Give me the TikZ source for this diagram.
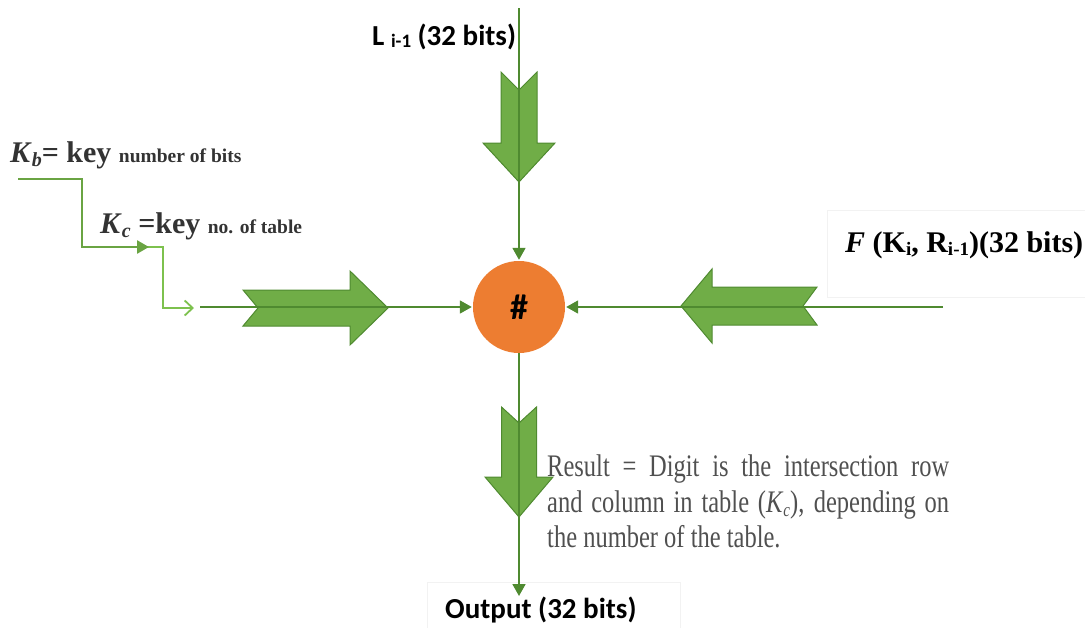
\documentclass[tikz,border=0pt]{standalone}
\usepackage{fontspec}
\setmainfont{Liberation Serif}
\newfontfamily\calib{Carlito}
\usetikzlibrary{arrows.meta}
\definecolor{gfill}{HTML}{70AD47}
\definecolor{gdark}{HTML}{4F8A30}
\definecolor{glight}{HTML}{7DC14E}
\definecolor{orng}{HTML}{ED7D31}
\definecolor{txtdark}{HTML}{333333}
\definecolor{txtgray}{HTML}{505050}
\newcommand\notcharrow[8]{%
  \path[bigarrow, shift={(#1,#2)}, rotate=#3] (0,0) -- (-#5,#6) -- (-#5,#7) -- (-#4,#7) -- (-#4+#8,0) -- (-#4,-#7) -- (-#5,-#7) -- (-#5,-#6) -- cycle;}
\begin{document}
\begin{tikzpicture}[x=1pt,y=-1pt,
  conn/.style={draw=gdark, line width=1.8pt, -{Triangle[length=12pt,width=13pt]}, shorten >=1pt},
  bigarrow/.style={fill=gfill, draw=gdark, line width=1pt, line join=miter},
  kbline/.style={draw=gfill!95!black, line width=2.6pt},
  kcline/.style={draw=glight, line width=1.8pt},
  faintbox/.style={draw=black!5, line width=0.6pt},
  sanslab/.style={font=\calib\bfseries\fontsize{29}{32}\selectfont, text=black, inner sep=0pt},
  serlab/.style={font=\bfseries\fontsize{30}{34}\selectfont, text=txtdark, inner sep=0pt},
]
\useasboundingbox (0,0) rectangle (1085,627);
% faint boxes
\path[faintbox] (827,210) rectangle (1090,297);
\path[faintbox] (427,582) rectangle (680,630);

% big notched arrows
\notcharrow{519}{182}{-90}{110}{39}{36}{18}{18}
\notcharrow{519}{517}{-90}{110}{40}{34}{17.5}{16}
\notcharrow{388}{308}{0}{145}{38}{37}{18}{15}
\notcharrow{681}{306}{180}{136}{31}{37}{19}{14}

% central node
\node[circle, fill=orng, minimum size=92pt, inner sep=0pt, font=\calib\bfseries\fontsize{36}{38}\selectfont] (c) at (519,307) {\#};

% connector ends
\coordinate (topS) at (519,8);
\coordinate (leftS) at (200,307);
\coordinate (rightS) at (943,307);
\coordinate (outT) at (519,597);
\draw[conn] (topS) -- (c.north);
\draw[conn] (leftS) -- (c.west);
\draw[conn] (rightS) -- (c.east);
\draw[conn] (c.south) -- (outT);

% key lines
\coordinate (kb0) at (18,179);
\coordinate (kb1) at (82,179);
\coordinate (kb2) at (82,247);
\coordinate (kbA) at (149,247);
\coordinate (kc0) at (144,247);
\coordinate (kc1) at (163,247);
\coordinate (kc2) at (163,308);
\coordinate (kc3) at (194,308);
\draw[kcline, -{Straight Barb[length=8pt,width=15pt]}] (kc0) -- (kc1) -- (kc2) -- (kc3);
\draw[kbline, line join=miter, -{Triangle[length=12pt,width=13pt]}] (kb0) -- (kb1) -- (kb2) -- (kbA);

% labels
\node[sanslab, anchor=base west] (Llab) at (372,45) {L {\fontsize{19}{19}\selectfont\raisebox{-2pt}{i-1}} (32 bits)};
\node[sanslab, anchor=base west] (Olab) at (445,618) {Output (32 bits)};
\node[serlab, anchor=base west] (Kb) at (10,162) {\textit{K}\raisebox{-4pt}{\fontsize{20}{20}\selectfont\itshape b}= key {\fontsize{19.5}{20}\selectfont number of bits}};
\node[serlab, anchor=base west] (Kc) at (100,233) {\textit{K}\raisebox{-4pt}{\fontsize{20}{20}\selectfont\itshape c} =key {\fontsize{19.5}{20}\selectfont no. of table}};
\node[serlab, anchor=base west, text=black] (Flab) at (845,252) {\textit{F} (K\raisebox{-3pt}{\fontsize{19}{19}\selectfont i}, R\raisebox{-3pt}{\fontsize{19}{19}\selectfont i-1})(32 bits)};
\node[anchor=north west, inner sep=0pt, text=txtgray] (res) at (547,455)
  {\scalebox{1}[1.28]{\parbox[t]{402pt}{\fontsize{24.5}{27.7}\selectfont\spaceskip=0.25em plus 1em\relax
  Result = Digit is the intersection row and column in table (\textit{K}\raisebox{-3pt}{\fontsize{15}{15}\selectfont\itshape c}), depending on the number of the table.}}};
\end{tikzpicture}
\end{document}
